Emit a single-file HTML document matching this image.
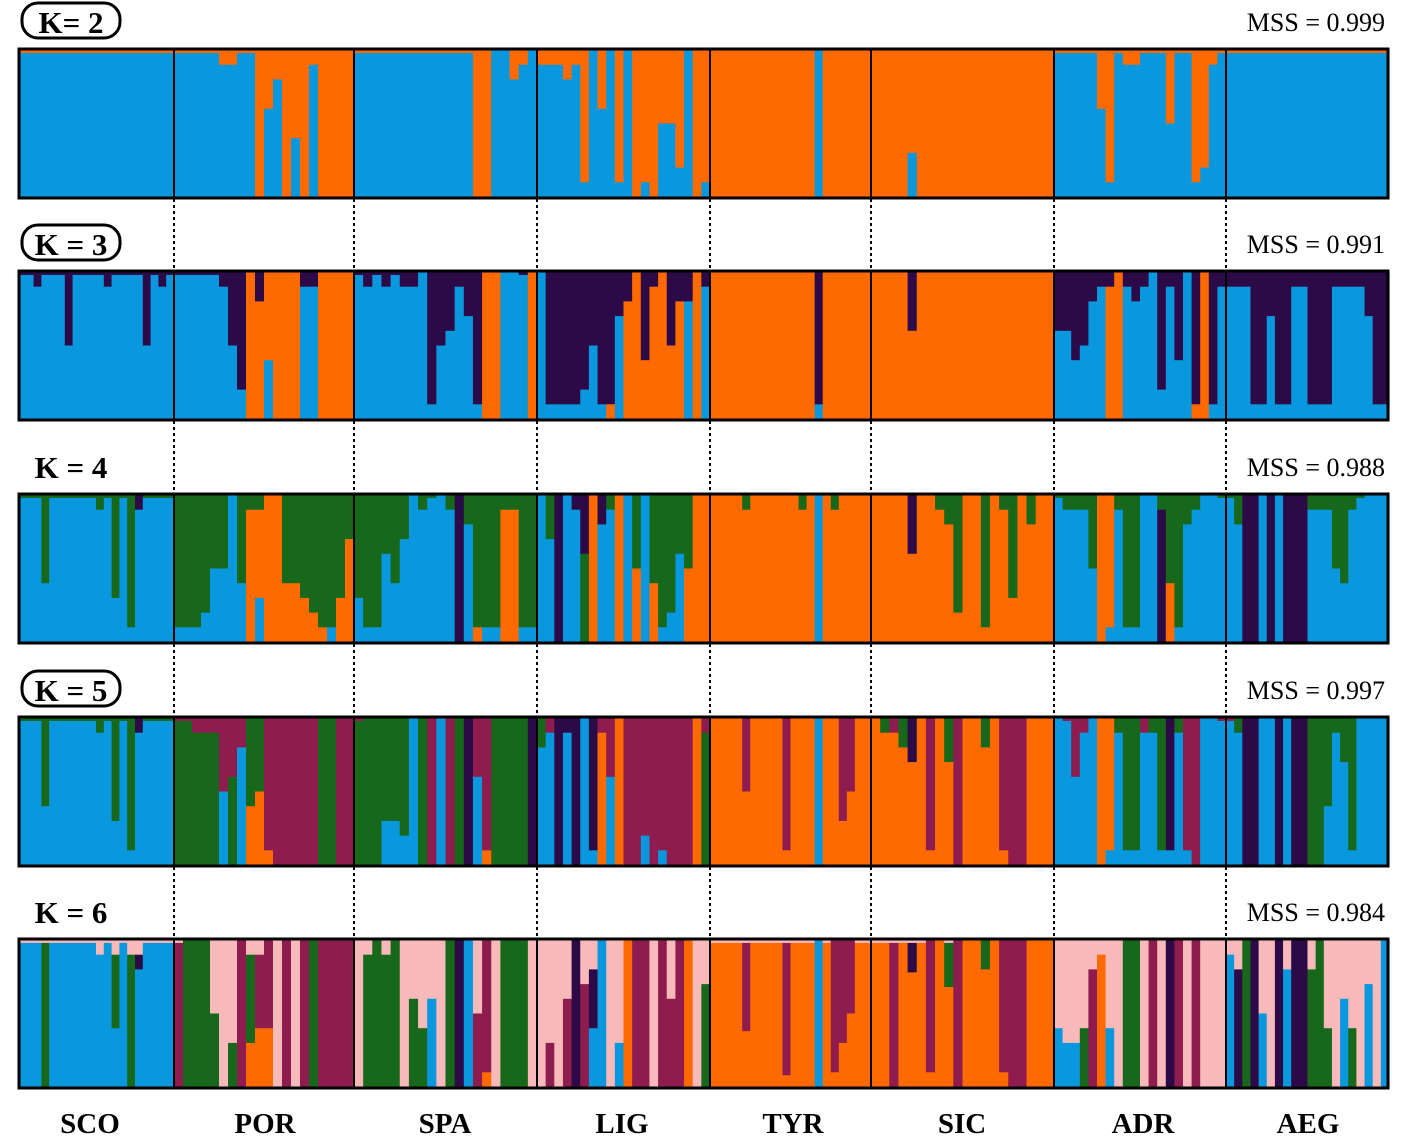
<!DOCTYPE html>
<html><head><meta charset="utf-8"><style>
html,body{margin:0;padding:0;background:#fff;}
svg{display:block;}
</style></head><body>
<svg id="chart" width="1417" height="1142" viewBox="0 0 1417 1142" xmlns="http://www.w3.org/2000/svg"></svg>
<script>
const populations = ["SCO","POR","SPA","LIG","TYR","SIC","ADR","AEG"];
const kValues = [2,3,4,5,6];
const mssValues = ["0.999","0.991","0.988","0.997","0.984"];
const boxedK = [true,true,false,true,false];
// individual memberships: letter=cluster, digit=tenths (0 = sliver), last letter takes remainder
const k2 = [
 Array(20).fill("O0B"),
 ["O0B","O0B","O0B","O0B","O0B","O1B","O1B","O0B","O0B","O","O4B","O2B","O","O6B","O","O1B","O","O","O","O"],
 ["O0B","O0B","O0B","O0B","O0B","O0B","O0B","O0B","O0B","O0B","O0B","O0B","O0B","O","O","B","B","O2B","O1B","B"],
 ["O1B","O1B","O1B","O2B","O1B","O9B","B","O4B","B","O9B","B","O","O9B","O","O5B","O5B","O8B","B","O","O9B"],
 ["O","O","O","O","O","O","O","O","O","O","O","O","O","B","O","O","O","O","O","O"],
 ["O","O","O","O","O7B","O","O","O","O","O","O","O","O","O","O","O","O","O","O","O"],
 ["O0B","O0B","O0B","O0B","O0B","O4B","O9B","O0B","O1B","O1B","O0B","O0B","O0B","O5B","O0B","O0B","O9B","O8B","O1B","O0B"],
 Array(20).fill("O0B")
];
const k3 = [
 ["P0B","P0B","P1B","P0B","P0B","P0B","P5B","P0B","P0B","P0B","P0B","P1B","P0B","P0B","P0B","P0B","P5B","P0B","P1B","P0B"],
 ["P0B","P0B","P0B","P0B","P0B","P1B","P5B","P8B","O","P2O","O6B","O","O","O","P1B","P1B","O","O","O","O"],
 ["P0B","P1B","P0B","P1B","P0B","P1B","P1B","B","P9B","P5B","P4B","P1B","P3B","P9B","O","O","B","B","P0B","O"],
 ["B","P9B","P9B","P9B","P9B","P8B","P5B","P9B","P9O","P3B","P2O","O","P6O","P1O","O","P5O","P2O","P2B","O","P1B"],
 ["O","O","O","O","O","O","O","O","O","O","O","O","O","P9B","O","O","O","O","O","O"],
 ["O","O","O","O","P4O","O","O","O","O","O","O","O","O","O","O","O","O","O","O","O"],
 ["P4B","P4B","P6B","P5B","P2B","P1B","P1O","O","P1B","P2B","P1B","B","P8B","P1B","P6B","B","P9O","O","P9B","P1B"],
 ["P1B","P1B","P1B","P9B","P9B","P3B","P9B","P9B","P1B","P1B","P9B","P9B","P9B","P1B","P1B","P1B","P1B","P3B","P9B","P9B"]
];
const k4 = [
 ["G0B","G0B","G0B","G6B","G0B","G0B","G0B","G0B","G0B","G0B","G1B","G0B","G7B","G0B","G9B","P1B","G0B","G0B","G0B","G0B"],
 ["G9B","G9B","G9B","G8B","G5B","G5B","B","G6B","G1O","G1O6B","O","O","G6O","G6O","G7O","G8O","G9O","G9B","G7O","G3O"],
 ["G7B","G9B","G9B","G4B","G6B","G3B","B","G1B","G0B","B","G1B","P","G2B","G9O","G9B","G9B","G1O","G1O","G9B","G9B"],
 ["B","G3B","P","B","P1B","P4G","O","P2B","G1B","O","B","G5O","B","G6O","G9B","G8B","G4B","G5O","O","O"],
 ["O","O","O","O","G1O","O","O","O","O","O","O","G1O","O","B","O","G1O","O","O","O","O"],
 ["O","O","O","O","P4O","O","O","G1O","G2O","G8O","O","O","G9O","O","G1O","G7O","O","G2O","O","O"],
 ["G0B","G1B","G1B","G1B","G5B","O","O9B","G1B","G9B","G9B","B","B","G1P","G6O","G9B","G2B","G1B","B","B","G0B"],
 ["G0B","G2B","P","P","B","P","B","P","P","P","G1B","G1B","G1B","G5B","G6B","G1B","G0B","B","B","B"]
];
const k5 = [
 ["G0B","G0B","G0B","G6B","G0B","G0B","G0B","G0B","G0B","G0B","G1B","G0B","G7B","G0B","G9B","P1B","G0B","G0B","G0B","G0B"],
 ["M0G","M0G","M1G","M1G","M1G","M5B","M4G","M2B","G6O","G5O","M9O","M","M","M","M","M","G","G","M","M"],
 ["M0G","G","G","G7B","G7B","G8B","B","G","M","B","M","G","P","M4B","M9O","G","G","G","G","P"],
 ["G2B","M1B","P","P1B","P","B","P9B","M1O","M4B","O","M","M","M8B","M","M9B","M","M","M","O","M1G"],
 ["O","O","O","O","M5O","O","O","O","O","M9O","O","O","O","B","O","O","M7O","M5O","O","O"],
 ["O","G1O","M1O","G2O","P3O","O","M9O","O","G3O","M","O","O","G2O","O","M9O","M","M","O","O","O"],
 ["B","M0B","M4B","M1B","B","O","O9B","G1B","G9B","G9B","M1B","G1B","G9B","P9B","G1B","M9B","M","B","B","M0B"],
 ["M0B","G1B","P","P","B","B","P","B","P","P","G","G","G6B","G1B","G3B","G9B","B","B","B","B"]
];
const k6 = [
 ["K0B","K0B","K0B","K0G","K0B","K0B","K0B","K0B","K0B","K0B","K1B","K0B","K1G5B","K0B","K1G","K1P1B","K0B","K0B","K0B","K0B"],
 ["K0M","G","G","G","K5G","K","K7G","M","K1G6O","K1M5O","M6O","K","M","K","M","G","M","M","M","M"],
 ["K","K1G","G","K1G","G","K","K4G","K6G","K4B","K","G","P","B","K5M","M9O","K","G","G","G","K"],
 ["K","K7M","K","K4M","P","K3M","K2P4B","B","K","K7B","O","M","M","K","M","K4M","M","O","K","K3G"],
 ["K0O","K0O","K0O","K0O","K0M6O","K0O","K0O","K0O","K0O","K0M9O","K0O","K0O","K0O","B","K0O","M9O","M7O","M5O","K0O","K0O"],
 ["K0O","K0O","K0M","K0O","K0P2O","K0O","M9O","O","K0G3O","M","O","O","G2O","O","M9O","M","M","O","O","O"],
 ["K6B","K7B","K7B","K6G","K2M","K1O","K6B","K","G","G","K","M","K","P","M","K","M","K","K","K"],
 ["K1B","K2P","G","P","K5B","K","P","K2B","P","P","K2G","G","K6G","K","K4B","K6G","K","K3B","K","B"]
];
const kData = [k2,k3,k4,k5,k6];
</script>
<script>
const colors = {B:"#0998de",O:"#ff6a00",P:"#2c0a48",G:"#17681a",M:"#8e1c4f",K:"#f7b9b9"};
const bounds = [18,174,354,537,710,871,1054,1226,1389];
const rowTop = [48,270,493,716,938];
const rowH = 151;
const NS = "http://www.w3.org/2000/svg";
const svg = document.getElementById("chart");
function mk(tag, attrs, parent){
  const e = document.createElementNS(NS, tag);
  for (const k in attrs) e.setAttribute(k, attrs[k]);
  (parent||svg).appendChild(e);
  return e;
}
function parseTok(t){
  const segs=[]; const re=/([A-Z])(\d?)/g; let m; let used=0;
  while((m=re.exec(t))){
    if(m[2]===""){segs.push([m[1],Math.max(0,1-used)]);used=1;}
    else{const f=m[2]==="0"?0.02:(+m[2])/10;segs.push([m[1],f]);used+=f;}
  }
  return segs;
}
kValues.forEach((K,ri)=>{
  const y0=rowTop[ri], top=y0+2, h=rowH-4;
  const g=mk("g",{});
  
  
  kData[ri].forEach((pop,pi)=>{
    const x0=bounds[pi], x1=bounds[pi+1], w=(x1-x0)/pop.length;
    pop.forEach((tok,ii)=>{
      let yy=top;
      parseTok(tok).forEach(([c,f])=>{
        const r=mk("rect",{x:(x0+ii*w).toFixed(2),y:yy.toFixed(2),width:(w+0.6).toFixed(2),height:(f*h+0.4).toFixed(2),fill:colors[c]},g);
        
        
        yy+=f*h;
      });
    });
  });
  const fr=mk("rect",{x:19,y:y0+1,width:1369,height:rowH-2,fill:"none",stroke:"#000","stroke-width":3});
  
  
  for(let i=1;i<bounds.length-1;i++){
    const l=mk("line",{x1:bounds[i],x2:bounds[i],y1:y0,y2:y0+rowH,stroke:"#000","stroke-width":2});
    
    
    if(ri<kValues.length-1){
      const d=mk("line",{x1:bounds[i],x2:bounds[i],y1:y0+rowH,y2:rowTop[ri+1],stroke:"#000","stroke-width":2,"stroke-dasharray":"3,3"});
      
      
    }
  }
  const ly = y0-10;
  if(boxedK[ri]){
    const b=mk("rect",{x:22,y:y0-45,width:98,height:35,rx:16,fill:"none",stroke:"#000","stroke-width":3});
    
    
  }
  const t=mk("text",{x:71,y:ly-5,"text-anchor":"middle","font-family":"Liberation Serif, serif","font-weight":"bold","font-size":31});
  t.textContent = ri===0 ? "K= 2" : "K = "+K;
  
  
  const ms=mk("text",{x:1385,y:y0-17,"text-anchor":"end","font-family":"Liberation Serif, serif","font-size":26});
  ms.textContent="MSS = "+mssValues[ri];
  
  
});
const labelX=[90,265,445,622,793,962,1143,1308];
populations.forEach((p,i)=>{
  const t=mk("text",{x:labelX[i],y:1133,"text-anchor":"middle","font-family":"Liberation Serif, serif","font-weight":"bold","font-size":29});
  t.textContent=p;
  
  
});
</script>
</body></html>
